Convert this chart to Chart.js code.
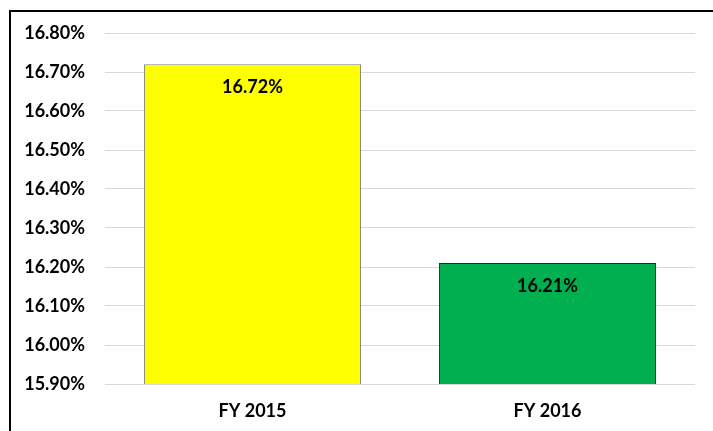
<!DOCTYPE html>
<html>
<head>
<meta charset="utf-8">
<script src="https://cdn.jsdelivr.net/npm/chart.js@4"></script>
<style>
    html, body { margin: 0; padding: 0; background: #ffffff; }
    #wrap { width: 713px; height: 431px; }
</style>
</head>
<body>
<div id="wrap"><canvas id="rateChart" width="713" height="431"></canvas></div>
<script>
'use strict';

// Data
const categories = ['FY 2015', 'FY 2016'];
const rates = [16.72, 16.21];
const barColors = ['#ffff00', '#00b050'];
const barBorders = ['#7f7f7f', '#262626'];

// Rámeček kolem grafu (jen horní a levá hrana jsou vidět)
const framePlugin = {
    id: 'frame',
    beforeDraw: (chart) => {
        const ctx = chart.ctx;
        ctx.save();
        ctx.fillStyle = '#ffffff';
        ctx.fillRect(0, 0, chart.width, chart.height);
        ctx.strokeStyle = '#000000';
        ctx.lineWidth = 2;
        ctx.beginPath();
        ctx.moveTo(chart.width, 11);
        ctx.lineTo(10, 11);
        ctx.lineTo(10, chart.height);
        ctx.stroke();
        ctx.restore();
    }
};

// Popisky hodnot uvnitř sloupců
const valueLabels = {
    id: 'valueLabels',
    afterDatasetsDraw: (chart) => {
        const ctx = chart.ctx;
        const meta = chart.getDatasetMeta(0);
        ctx.save();
        ctx.font = 'bold 18px Lato, "Open Sans", sans-serif';
        ctx.fillStyle = '#000000';
        ctx.textAlign = 'center';
        ctx.textBaseline = 'middle';
        meta.data.forEach((bar, i) => {
            ctx.fillText(rates[i].toFixed(2) + '%', bar.x, bar.y + 23);
        });
        ctx.restore();
    }
};

new Chart(document.getElementById('rateChart').getContext('2d'), {
    type: 'bar',
    data: {
        labels: categories,
        datasets: [{
            data: rates,
            backgroundColor: barColors,
            borderColor: barBorders,
            borderWidth: 1,
            categoryPercentage: 0.736,
            barPercentage: 1.0
        }]
    },
    options: {
        responsive: false,
        animation: false,
        layout: {
            padding: { top: 33, right: 18, left: 0, bottom: 0 }
        },
        scales: {
            y: {
                min: 15.9,
                max: 16.8,
                ticks: {
                    stepSize: 0.1,
                    color: '#000000',
                    padding: 20,
                    font: { family: 'Lato, "Open Sans", sans-serif', size: 18, weight: 'bold' },
                    callback: (value) => value.toFixed(2) + '%'
                },
                grid: {
                    color: '#d9d9d9',
                    drawTicks: false
                },
                border: { display: false },
                afterFit: (scale) => { scale.width = 105; }
            },
            x: {
                ticks: {
                    color: '#000000',
                    padding: 16,
                    font: { family: 'Lato, "Open Sans", sans-serif', size: 18, weight: 'bold' }
                },
                grid: { display: false, drawTicks: false },
                border: { display: false },
                afterFit: (scale) => { scale.height = 47; }
            }
        },
        plugins: {
            legend: { display: false },
            tooltip: { enabled: false }
        }
    },
    plugins: [framePlugin, valueLabels]
});
</script>
</body>
</html>
